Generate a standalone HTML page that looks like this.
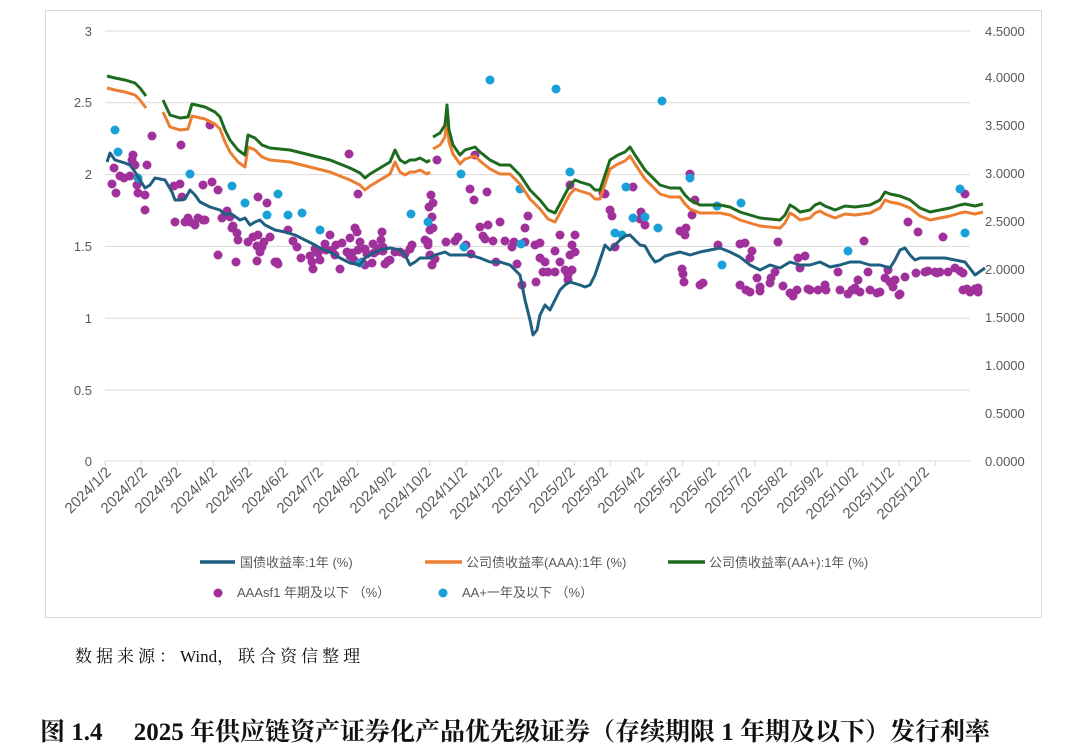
<!DOCTYPE html>
<html><head><meta charset="utf-8"><style>
body{margin:0;background:#fff;width:1080px;height:753px;overflow:hidden;position:relative;font-family:"Liberation Sans","Noto Sans CJK SC",sans-serif}
.src{position:absolute;left:75px;top:642px;font-family:"Liberation Serif","Noto Serif CJK SC",serif;font-size:17px;color:#111;letter-spacing:4px;white-space:nowrap}
.src span{letter-spacing:0}
.cap{position:absolute;left:40px;top:712px;font-family:"Liberation Serif","Noto Serif CJK SC",serif;font-size:25px;font-weight:bold;color:#111;white-space:nowrap}
</style></head><body>
<svg id="s" width="1080" height="640" style="position:absolute;left:0;top:0" font-family="Liberation Sans, Noto Sans CJK SC, sans-serif">
<rect x="45.5" y="10.5" width="996" height="607" fill="#fff" stroke="#d9d9d9"/>
<g stroke="#d9d9d9" stroke-width="1">
<line x1="105" x2="970" y1="31" y2="31"/><line x1="105" x2="970" y1="102.8" y2="102.8"/><line x1="105" x2="970" y1="174.6" y2="174.6"/><line x1="105" x2="970" y1="246.4" y2="246.4"/><line x1="105" x2="970" y1="318.2" y2="318.2"/><line x1="105" x2="970" y1="390" y2="390"/><line x1="105" x2="970" y1="461" y2="461"/>
</g>
<g fill="#595959" font-size="13" text-anchor="end">
<text x="92" y="36">3</text><text x="92" y="107">2.5</text><text x="92" y="179">2</text><text x="92" y="251">1.5</text><text x="92" y="323">1</text><text x="92" y="395">0.5</text><text x="92" y="466">0</text>
</g>
<g fill="#595959" font-size="13">
<text x="985" y="36">4.5000</text><text x="985" y="82">4.0000</text><text x="985" y="130">3.5000</text><text x="985" y="178">3.0000</text><text x="985" y="226">2.5000</text><text x="985" y="274">2.0000</text><text x="985" y="322">1.5000</text><text x="985" y="370">1.0000</text><text x="985" y="418">0.5000</text><text x="985" y="466">0.0000</text>
</g>
<g id="ticks" stroke="#d9d9d9"></g>
<g fill="#595959" font-size="15" text-anchor="end">
<text transform="translate(112,473) rotate(-45)">2024/1/2</text>
<text transform="translate(148,473) rotate(-45)">2024/2/2</text>
<text transform="translate(182,473) rotate(-45)">2024/3/2</text>
<text transform="translate(218,473) rotate(-45)">2024/4/2</text>
<text transform="translate(253,473) rotate(-45)">2024/5/2</text>
<text transform="translate(289,473) rotate(-45)">2024/6/2</text>
<text transform="translate(324,473) rotate(-45)">2024/7/2</text>
<text transform="translate(360,473) rotate(-45)">2024/8/2</text>
<text transform="translate(397,473) rotate(-45)">2024/9/2</text>
<text transform="translate(432,473) rotate(-45)">2024/10/2</text>
<text transform="translate(468,473) rotate(-45)">2024/11/2</text>
<text transform="translate(503,473) rotate(-45)">2024/12/2</text>
<text transform="translate(539,473) rotate(-45)">2025/1/2</text>
<text transform="translate(576,473) rotate(-45)">2025/2/2</text>
<text transform="translate(609,473) rotate(-45)">2025/3/2</text>
<text transform="translate(645,473) rotate(-45)">2025/4/2</text>
<text transform="translate(681,473) rotate(-45)">2025/5/2</text>
<text transform="translate(717,473) rotate(-45)">2025/6/2</text>
<text transform="translate(752,473) rotate(-45)">2025/7/2</text>
<text transform="translate(788,473) rotate(-45)">2025/8/2</text>
<text transform="translate(824,473) rotate(-45)">2025/9/2</text>
<text transform="translate(859,473) rotate(-45)">2025/10/2</text>
<text transform="translate(895,473) rotate(-45)">2025/11/2</text>
<text transform="translate(930,473) rotate(-45)">2025/12/2</text>
</g>
<g id="dots"></g>
<g id="lines" fill="none" stroke-width="3" stroke-linejoin="round"></g>
<g font-size="13" fill="#595959">
<line x1="200" x2="235" y1="562" y2="562" stroke="#1f5f80" stroke-width="3.5"/><text x="240" y="567">国债收益率:1年 (%)</text>
<line x1="425" x2="462" y1="562" y2="562" stroke="#ed7d31" stroke-width="3.5"/><text x="466" y="567">公司债收益率(AAA):1年 (%)</text>
<line x1="668" x2="705" y1="562" y2="562" stroke="#1e6b20" stroke-width="3.5"/><text x="709" y="567">公司债收益率(AA+):1年 (%)</text>
<circle cx="218" cy="593" r="4.5" fill="#a0309a"/><text x="237" y="597">AAAsf1 年期及以下 （%）</text>
<circle cx="443" cy="593" r="4.5" fill="#1aa0d8"/><text x="462" y="597">AA+一年及以下 （%）</text>
</g>
</svg>
<div class="src">数据来源：<span>Wind</span>，联合资信整理</div>
<div class="cap">图 1.4&nbsp;&nbsp;&nbsp;&nbsp; 2025 年供应链资产证券化产品优先级证券（存续期限 1 年期及以下）发行利率</div>
<script>
var NS="http://www.w3.org/2000/svg";
function el(p,t,a){var e=document.createElementNS(NS,t);for(var k in a)e.setAttribute(k,a[k]);document.getElementById(p).appendChild(e);return e;}
for(var i=0;i<24;i++){var x=105+i*36.1;el("ticks","line",{x1:x,x2:x,y1:461,y2:466});}
var P=[[112,184],[114,168],[116,193],[120,176],[124,178],[130,176],[132,160],[133,155],[135,165],[137,185],[138,193],[145,195],[145,210],[147,165],[152,136],[174,186],[180,184],[182,197],[181,145],[175,222],[185,222],[190,222],[188,218],[195,225],[198,218],[203,220],[203,185],[205,220],[210,125],[212,182],[218,190],[218,255],[222,218],[227,211],[230,217],[232,228],[233,226],[237,233],[238,240],[236,262],[248,242],[253,237],[258,235],[257,246],[260,252],[257,261],[258,197],[262,247],[267,203],[264,242],[270,237],[275,262],[277,262],[278,264],[288,230],[293,241],[297,247],[301,258],[310,256],[312,262],[313,269],[315,249],[320,260],[325,244],[326,250],[332,250],[335,255],[336,245],[350,256],[352,253],[354,260],[362,262],[365,265],[374,253],[377,251],[383,251],[385,264],[390,260],[355,228],[357,232],[360,242],[358,250],[350,238],[365,249],[367,254],[372,263],[380,248],[382,232],[395,252],[400,252],[405,254],[410,249],[412,245],[388,261],[381,240],[342,243],[347,252],[349,154],[358,194],[373,244],[383,247],[318,253],[340,269],[330,235],[428,242],[430,230],[432,217],[429,207],[433,203],[431,195],[428,245],[430,255],[425,240],[433,228],[435,259],[432,265],[437,160],[446,242],[455,241],[458,237],[466,245],[471,254],[470,189],[474,200],[475,155],[480,227],[483,236],[485,239],[488,225],[487,192],[493,241],[496,262],[500,222],[505,241],[512,247],[514,242],[517,264],[522,285],[525,242],[525,228],[528,216],[535,245],[540,243],[540,258],[545,262],[536,282],[543,272],[548,272],[555,272],[555,251],[560,262],[565,270],[570,255],[575,252],[575,235],[572,245],[570,185],[572,270],[568,280],[568,275],[560,235],[603,193],[605,194],[610,210],[612,216],[615,247],[633,187],[640,219],[641,212],[645,225],[680,231],[690,174],[692,215],[686,228],[685,235],[695,200],[682,269],[683,274],[684,282],[700,285],[703,283],[718,245],[740,244],[745,243],[752,251],[750,258],[757,278],[760,287],[740,285],[746,290],[750,292],[760,291],[778,242],[775,272],[771,278],[770,283],[783,286],[790,293],[797,290],[793,296],[800,268],[798,258],[805,256],[808,289],[810,290],[818,290],[825,285],[826,290],[838,272],[840,290],[848,294],[852,290],[855,288],[860,292],[864,241],[870,290],[868,272],[858,280],[856,290],[877,293],[880,292],[885,278],[888,270],[893,287],[890,282],[895,280],[899,295],[900,294],[905,277],[908,222],[916,273],[918,232],[925,272],[928,271],[935,272],[937,273],[943,237],[940,272],[948,272],[955,268],[960,271],[963,273],[965,194],[963,290],[967,289],[970,292],[975,289],[978,288],[978,292]];
P.forEach(function(p){el("dots","circle",{cx:p[0],cy:p[1],r:4.5,fill:"#a0309a"});});
var C=[[115,130],[118,152],[138,178],[190,174],[232,186],[245,203],[267,215],[278,194],[288,215],[302,213],[320,230],[360,263],[411,214],[428,222],[461,174],[464,247],[490,80],[520,189],[521,244],[556,89],[570,172],[615,233],[622,235],[626,187],[633,218],[645,217],[658,228],[662,101],[690,178],[717,206],[722,265],[741,203],[848,251],[960,189],[965,233]];
C.forEach(function(p){el("dots","circle",{cx:p[0],cy:p[1],r:4.5,fill:"#1aa0d8"});});
var G1=[[107,76],[115,78],[125,80],[135,83],[140,88],[146,96]];
var G2=[[163,100],[170,115],[180,118],[188,117],[192,104],[205,107],[215,112],[220,117],[225,130],[230,140],[238,150],[245,155],[248,135],[255,138],[262,145],[270,148],[290,150],[310,155],[330,160],[350,168],[360,173],[365,178],[370,174],[380,168],[390,162],[395,150],[400,160],[405,163],[410,160],[415,160],[420,158],[427,162],[430,160]];
var G3=[[433,137],[440,133],[445,125],[447,105],[449,130],[453,145],[460,155],[465,150],[475,147],[480,152],[490,160],[500,165],[510,165],[520,175],[530,190],[540,200],[548,210],[555,213],[562,200],[570,185],[575,180],[580,182],[590,185],[595,190],[600,190],[605,175],[610,160],[618,155],[625,152],[630,147],[635,155],[645,170],[650,175],[660,185],[670,188],[680,188],[685,195],[690,200],[700,205],[710,205],[720,205],[730,207],[740,212],[750,215],[760,218],[780,220],[785,215],[790,205],[795,208],[800,212],[810,210],[815,205],[820,203],[825,206],[835,210],[845,206],[855,207],[870,205],[880,200],[885,192],[890,194],[900,196],[910,200],[920,208],[930,212],[940,210],[950,208],[960,205],[965,204],[975,206],[983,204]];
var B=[[107,162],[110,153],[115,160],[125,163],[130,165],[135,172],[140,180],[145,188],[150,185],[155,178],[165,180],[172,192],[175,200],[180,200],[185,199],[190,190],[195,195],[200,202],[210,207],[220,210],[225,215],[230,213],[240,220],[245,218],[250,225],[255,222],[260,220],[265,225],[275,230],[285,232],[295,235],[305,240],[315,245],[320,248],[330,252],[340,258],[350,263],[360,265],[365,258],[370,255],[380,250],[390,248],[400,250],[405,255],[410,265],[415,262],[420,258],[430,258],[435,255],[445,252],[450,255],[460,255],[470,255],[480,258],[490,262],[500,262],[510,265],[515,270],[520,275],[525,300],[530,320],[533,335],[537,330],[540,315],[545,305],[550,310],[555,300],[560,290],[565,285],[570,282],[580,285],[585,287],[590,285],[595,275],[600,260],[605,245],[610,250],[615,245],[620,240],[625,236],[630,235],[635,240],[640,245],[645,246],[650,255],[655,262],[660,260],[665,256],[680,252],[690,255],[700,252],[710,250],[720,248],[730,252],[740,257],[750,265],[760,270],[770,265],[780,268],[790,262],[800,265],[810,265],[820,262],[830,267],[840,265],[850,262],[860,262],[870,265],[880,265],[890,268],[895,260],[900,250],[905,248],[910,255],[915,260],[920,258],[930,258],[945,258],[955,260],[965,262],[975,275],[985,268]];
function pl(a,dy,c){el("lines","polyline",{points:a.map(function(p){return p[0]+","+(p[1]+(typeof dy=="function"?dy(p[0]):dy));}).join(" "),stroke:c});}
var od=function(x){return x<450?12:(x<700?9:8);};
[G1,G2,G3].forEach(function(g){pl(g,od,"#ed7d31");});
[G1,G2,G3].forEach(function(g){pl(g,0,"#1e6b20");});
pl(B,0,"#1f5f80");
</script>
</body></html>
